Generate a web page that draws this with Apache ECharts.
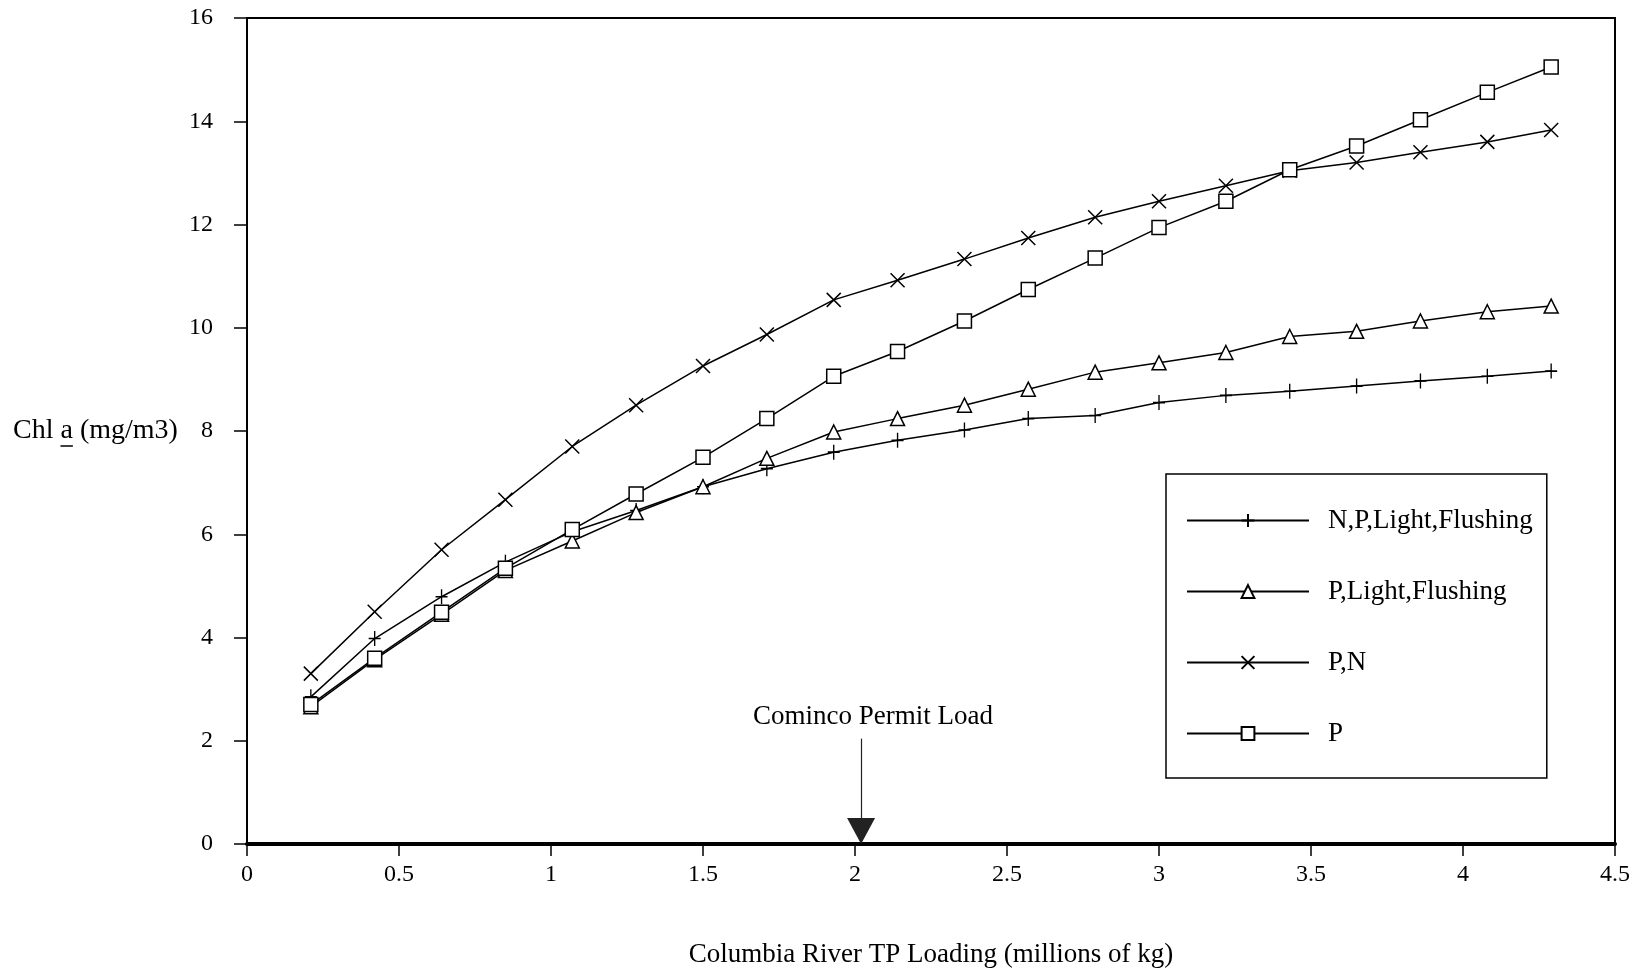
<!DOCTYPE html>
<html>
<head>
<meta charset="utf-8">
<title>Chl a vs Columbia River TP Loading</title>
<script src="https://cdn.jsdelivr.net/npm/echarts@6/dist/echarts.min.js"></script>
<style>
  html, body { margin: 0; padding: 0; background: #fff; }
  #chart { width: 1642px; height: 975px; }
</style>
</head>
<body>
<div id="chart"></div>
<script>
// TP loading (millions of kg) at each model run
const loading = [0.21, 0.42, 0.64, 0.85, 1.07, 1.28, 1.50, 1.71, 1.93, 2.14,
  2.36, 2.57, 2.79, 3.00, 3.22, 3.43, 3.65, 3.86, 4.08, 4.29]

// Chl a (mg/m3) for each limiting-factor scenario
const npLightFlushing = [2.85, 3.98, 4.79, 5.46, 6.05, 6.46, 6.92, 7.27, 7.59, 7.82,
  8.02, 8.24, 8.30, 8.55, 8.69, 8.77, 8.87, 8.97, 9.06, 9.16]
const pLightFlushing = [2.66, 3.57, 4.45, 5.30, 5.87, 6.42, 6.92, 7.47, 7.98, 8.24,
  8.50, 8.81, 9.14, 9.32, 9.52, 9.83, 9.93, 10.13, 10.31, 10.42]
const pN = [3.30, 4.50, 5.70, 6.67, 7.70, 8.50, 9.26, 9.87, 10.54, 10.92,
  11.33, 11.74, 12.14, 12.45, 12.75, 13.04, 13.20, 13.40, 13.60, 13.83]
const pOnly = [2.70, 3.60, 4.49, 5.34, 6.09, 6.78, 7.49, 8.24, 9.06, 9.54,
  10.13, 10.74, 11.35, 11.94, 12.45, 13.06, 13.52, 14.03, 14.56, 15.05]

const seriesNames = ['N,P,Light,Flushing', 'P,Light,Flushing', 'P,N', 'P']

// Cominco permit load marker (x), arrow top / arrowhead centre (y)
const permitLoad = 2.02
const permitArrow = [2.04, 0.25]

const FONT = '"Liberation Serif", "Times New Roman", serif'
const PLUS = 'path://M5,0L5,10M0,5L10,5'
const CROSS = 'path://M0,0L10,10M10,0L0,10'

function pairs(ys) {
  return loading.map((x, i) => [x, ys[i]])
}

function lineSeries(name, ys, symbol, size, hollow) {
  return {
    name,
    type: 'line',
    data: pairs(ys),
    symbol,
    symbolSize: size,
    showAllSymbol: true,
    lineStyle: { color: '#000', width: 1.5 },
    itemStyle: {
      color: hollow ? '#fff' : '#000',
      borderColor: '#000',
      borderWidth: 1.5,
    },
    emphasis: { disabled: true },
  }
}

const chart = echarts.init(document.getElementById('chart'))

const series = [
  lineSeries(seriesNames[0], npLightFlushing, PLUS, [12, 15], false),
  lineSeries(seriesNames[1], pLightFlushing, 'triangle', 14, true),
  lineSeries(seriesNames[2], pN, CROSS, 14, false),
  lineSeries(seriesNames[3], pOnly, 'rect', 14, true),
]

// arrow for the permit load hangs off the first series
series[0].markLine = {
  silent: true,
  symbol: ['none', 'triangle'],
  symbolSize: [28, 26],
  lineStyle: { color: '#222', width: 1.2, type: 'solid' },
  itemStyle: { color: '#111' },
  label: {
    show: true,
    position: 'start',
    distance: 8,
    padding: [0, 0, 0, 24],
    formatter: 'Cominco Permit Load',
    fontFamily: FONT,
    fontSize: 27,
    color: '#000',
  },
  data: [[
    { coord: [permitLoad, permitArrow[0]] },
    { coord: [permitLoad, permitArrow[1]] },
  ]],
}

const option = {
  animation: false,
  backgroundColor: '#fff',
  grid: {
    left: 247,
    top: 18,
    right: 27,
    bottom: 131,
    show: true,
    borderColor: '#000',
    borderWidth: 2,
  },
  legend: {
    data: seriesNames,
    orient: 'vertical',
    left: 1166,
    top: 474,
    padding: [33, 14, 31, 20],
    itemWidth: 122,
    itemHeight: 16,
    itemGap: 44,
    borderColor: '#000',
    borderWidth: 1.5,
    backgroundColor: '#fff',
    selectedMode: false,
    textStyle: {
      fontFamily: FONT,
      fontSize: 27,
      color: '#000',
      padding: [0, 0, 0, 14],
    },
  },
  xAxis: {
    type: 'value',
    min: 0,
    max: 4.5,
    interval: 0.5,
    name: 'Columbia River TP Loading (millions of kg)',
    nameLocation: 'middle',
    nameGap: 97,
    nameTextStyle: { fontFamily: FONT, fontSize: 27, color: '#000' },
    axisLine: { show: true, onZero: false, lineStyle: { color: '#000', width: 4 } },
    axisTick: { show: true, length: 12, lineStyle: { color: '#000', width: 1.5 } },
    axisLabel: { margin: 19, fontFamily: FONT, fontSize: 24, color: '#000' },
    splitLine: { show: false },
  },
  yAxis: {
    type: 'value',
    min: 0,
    max: 16,
    interval: 2,
    axisLine: { show: true, lineStyle: { color: '#000', width: 1.5 } },
    axisTick: { show: true, length: 13, lineStyle: { color: '#000', width: 1.5 } },
    axisLabel: { margin: 34, fontFamily: FONT, fontSize: 24, color: '#000' },
    splitLine: { show: false },
  },
  series,
}

chart.setOption(option)

// y axis title sits level with 8, the "a" is underlined
const nameFont = '28px ' + FONT
const ctx = document.createElement('canvas').getContext('2d')
ctx.font = nameFont
const preW = ctx.measureText('Chl ').width
const aW = ctx.measureText('a').width
const y8 = chart.convertToPixel({ yAxisIndex: 0 }, 8)
const nameX = 13

chart.setOption({
  graphic: [
    {
      type: 'text',
      x: nameX,
      y: y8,
      style: {
        text: 'Chl a (mg/m3)',
        font: nameFont,
        fill: '#000',
        align: 'left',
        verticalAlign: 'middle',
      },
    },
    {
      type: 'line',
      shape: { x1: nameX + preW, y1: y8 + 15, x2: nameX + preW + aW, y2: y8 + 15 },
      style: { stroke: '#000', lineWidth: 1.5 },
    },
  ],
})
</script>
</body>
</html>
